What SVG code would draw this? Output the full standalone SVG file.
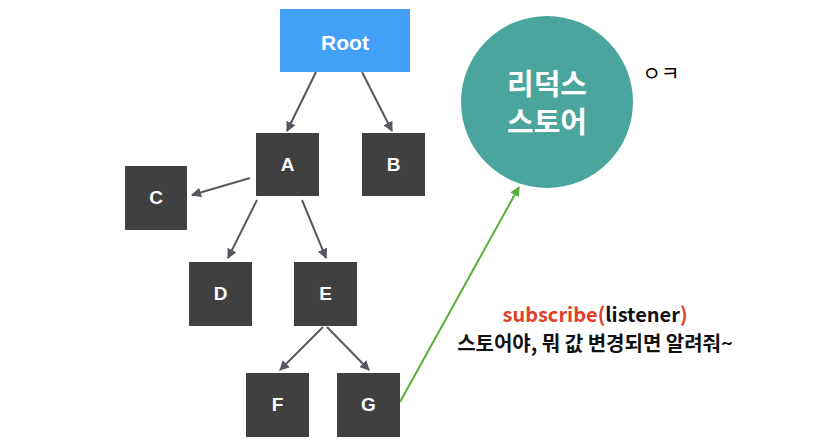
<svg xmlns="http://www.w3.org/2000/svg" width="819" height="446" viewBox="0 0 819 446">
<style>
.box{fill:#404040}
.lbl{fill:#fff;font-family:"Liberation Sans",Arial,sans-serif;font-weight:bold;font-size:19px;text-anchor:middle}
.edge{stroke:#55595f;stroke-width:2;fill:none;marker-end:url(#ah)}
.ko{font-family:"Noto Sans CJK KR","Noto Sans",sans-serif;font-weight:bold}
</style>
<defs>
<marker id="ah" viewBox="0 0 10 10" refX="9" refY="5" markerWidth="5" markerHeight="5" orient="auto" markerUnits="strokeWidth">
<path d="M0,0 L10,5 L0,10 z" fill="#55595f"/>
</marker>
<marker id="ahg" viewBox="0 0 10 10" refX="9" refY="5" markerWidth="5" markerHeight="5" orient="auto" markerUnits="strokeWidth">
<path d="M0,0 L10,5 L0,10 z" fill="#5bae3c"/>
</marker>
</defs>
<rect width="819" height="446" fill="#fff"/>
<g id="connectors">
<line class="edge" x1="316" y1="72" x2="287" y2="131"/>
<line class="edge" x1="362" y1="72" x2="392" y2="131"/>
<line class="edge" x1="250" y1="178" x2="192" y2="195"/>
<line class="edge" x1="257" y1="200" x2="228" y2="258"/>
<line class="edge" x1="302" y1="200" x2="326" y2="258"/>
<line class="edge" x1="323" y1="327" x2="280" y2="370"/>
<line class="edge" x1="327" y1="327" x2="369" y2="370"/>
<line x1="400" y1="402" x2="519" y2="187" stroke="#5bae3c" stroke-width="2" marker-end="url(#ahg)"/>
</g>
<g id="root"><rect x="280" y="9" width="130" height="63" fill="#42a0f7"/><text class="lbl" x="345" y="50" style="font-size:21px">Root</text></g>
<g id="A"><rect class="box" x="256" y="133" width="63" height="63"/><text class="lbl" x="287.5" y="171">A</text></g>
<g id="B"><rect class="box" x="362" y="133" width="63" height="63"/><text class="lbl" x="393.5" y="171">B</text></g>
<g id="C"><rect class="box" x="125" y="166" width="62" height="64"/><text class="lbl" x="156" y="204">C</text></g>
<g id="D"><rect class="box" x="189" y="262" width="63" height="64"/><text class="lbl" x="220.5" y="300">D</text></g>
<g id="E"><rect class="box" x="294" y="262" width="63" height="64"/><text class="lbl" x="325.5" y="300">E</text></g>
<g id="F"><rect class="box" x="246" y="373" width="63" height="64"/><text class="lbl" x="277.5" y="411">F</text></g>
<g id="G"><rect class="box" x="337" y="373" width="63" height="64"/><text class="lbl" x="368.5" y="411">G</text></g>
<g id="store">
<circle cx="547" cy="102" r="86" fill="#4aa69c"/>
<text class="ko" x="547" y="95" fill="#fff" font-size="29" text-anchor="middle">리덕스</text>
<text class="ko" x="547" y="133" fill="#fff" font-size="29" text-anchor="middle">스토어</text>
</g>
<text x="661" y="81" font-family="Noto Sans CJK KR, sans-serif" font-size="20" text-anchor="middle" fill="#000">ㅇㅋ</text>
<text class="ko" x="595" y="322" font-size="20" text-anchor="middle" fill="#111"><tspan fill="#e0402a">subscribe(</tspan>listener<tspan fill="#e0402a">)</tspan></text>
<text class="ko" x="595" y="351" font-size="20" text-anchor="middle" fill="#111">스토어야, 뭐 값 변경되면 알려줘~</text>
</svg>
